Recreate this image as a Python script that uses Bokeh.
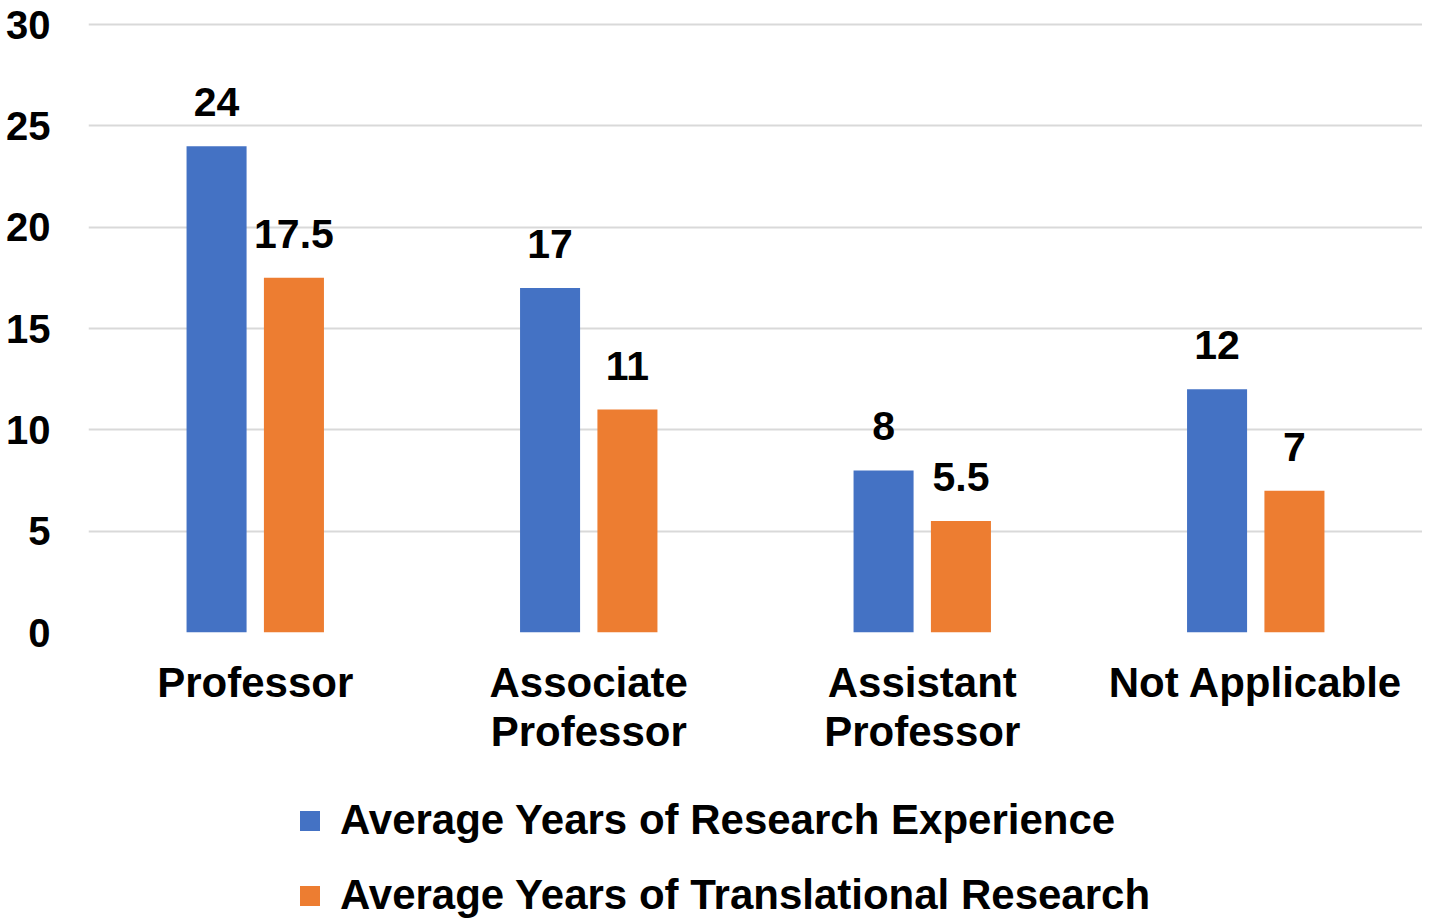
from bokeh.plotting import figure
from bokeh.layouts import column
from bokeh.models import ColumnDataSource, FactorRange, Legend, LegendItem, Range1d, FixedTicker
from bokeh.transform import dodge
from bokeh.embed import file_html
from bokeh.resources import INLINE
from bokeh.core.properties import value

categories = ["Professor", "Associate\nProfessor", "Assistant\nProfessor", "Not Applicable"]
research_years = [24, 17, 8, 12]
translational_years = [17.5, 11, 5.5, 7]
series_names = ["Average Years of Research Experience", "Average Years of Translational Research"]
y_ticks = [0, 5, 10, 15, 20, 25, 30]

BLUE = "#4472C4"
ORANGE = "#ED7D31"
FONT = "Liberation Sans"

src = ColumnDataSource(dict(
    cat=categories,
    research=research_years,
    translational=translational_years,
    research_lbl=[f"{v:g}" for v in research_years],
    trans_lbl=[f"{v:g}" for v in translational_years],
))

xr = FactorRange(*categories)
p = figure(x_range=xr, y_range=Range1d(0, 30.15),
           width=1422, height=770, output_backend="svg", toolbar_location=None,
           min_border_left=88, min_border_right=0, min_border_top=21,
           min_border_bottom=138)
p.outline_line_color = None
p.background_fill_color = "white"
p.border_fill_color = "white"

p.xgrid.grid_line_color = None
p.ygrid.grid_line_color = "#d9d9d9"
p.ygrid.grid_line_width = 2

p.yaxis.ticker = FixedTicker(ticks=y_ticks)
for ax in (p.xaxis[0], p.yaxis[0]):
    ax.axis_line_color = None
    ax.major_tick_line_color = None
    ax.minor_tick_line_color = None
    ax.major_tick_out = 0
    ax.major_tick_in = 0
    ax.major_label_text_font = FONT
    ax.major_label_text_font_style = "bold"
    ax.major_label_text_color = "black"
p.yaxis.major_label_text_font_size = "40px"
p.yaxis.major_label_standoff = 38
p.xaxis.major_label_text_font_size = "42px"
p.xaxis.major_label_standoff = 26
p.xaxis.major_label_text_line_height = 1.05

r1 = p.vbar(x=dodge("cat", -0.116, range=xr), top="research", width=0.18,
            source=src, fill_color=BLUE, line_color=None)
r2 = p.vbar(x=dodge("cat", 0.116, range=xr), top="translational", width=0.18,
            source=src, fill_color=ORANGE, line_color=None)

for col, off in (("research", -0.116), ("translational", 0.116)):
    p.text(x=dodge("cat", off, range=xr), y=col,
           text=("research_lbl" if col == "research" else "trans_lbl"),
           source=src, text_align="center", text_baseline="alphabetic",
           y_offset=-44, text_font=value(FONT), text_font_style="bold",
           text_font_size="41px", text_color="black")

# legend strip below the chart (its zero-height bars lie far below its visible y range)
q = figure(width=1422, height=153, output_backend="svg", toolbar_location=None,
           x_axis_location=None, y_axis_location=None,
           min_border_left=88, min_border_right=0, min_border_top=0, min_border_bottom=0,
           x_range=xr, y_range=Range1d(1000, 1001))
q.outline_line_color = None
q.grid.visible = False
q.background_fill_color = "white"
q.border_fill_color = "white"
lr1 = q.vbar(x=dodge("cat", -0.116, range=xr), top="research", bottom="research",
             width=0.18, source=src, fill_color=BLUE, line_color=None)
lr2 = q.vbar(x=dodge("cat", 0.116, range=xr), top="translational", bottom="translational",
             width=0.18, source=src, fill_color=ORANGE, line_color=None)

legend = Legend(items=[LegendItem(label=series_names[0], renderers=[lr1]),
                       LegendItem(label=series_names[1], renderers=[lr2])],
                location=(209, 4), orientation="vertical",
                glyph_width=25, glyph_height=25, label_standoff=18,
                spacing=27, padding=0, margin=0,
                border_line_color=None, background_fill_alpha=0,
                label_text_font=FONT, label_text_font_style="bold",
                label_text_font_size="42px", label_text_color="black")
q.add_layout(legend, "center")

layout = column(p, q, spacing=0)
open("out.html", "w").write(file_html(layout, INLINE))
